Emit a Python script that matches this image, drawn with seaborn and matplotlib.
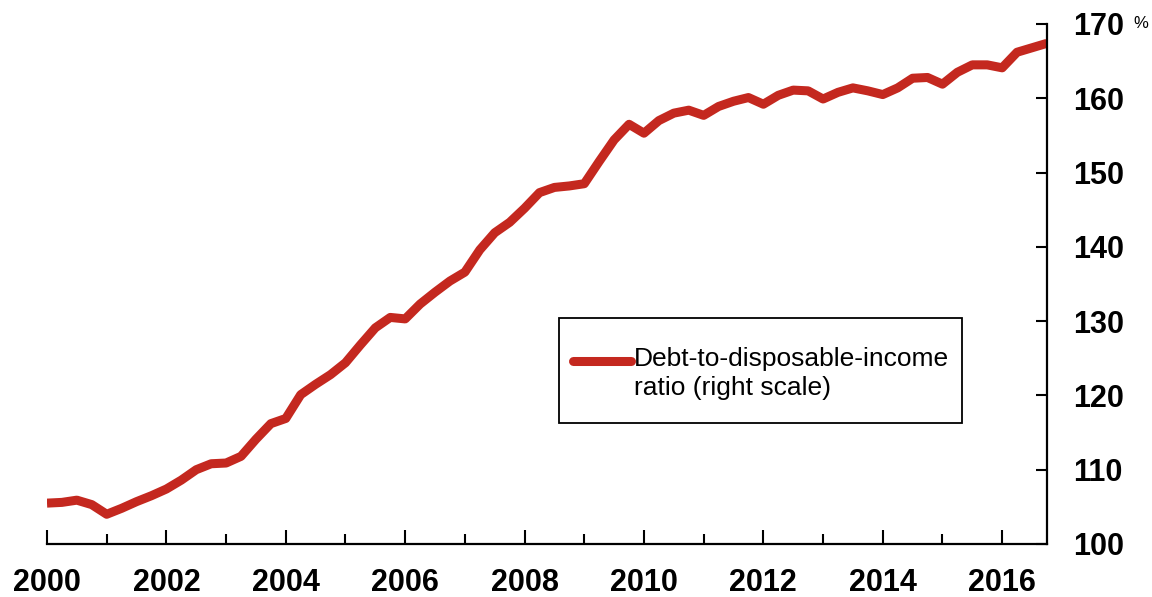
import numpy as np
import pandas as pd
import seaborn as sns
import matplotlib.pyplot as plt
from matplotlib.patches import Rectangle
from matplotlib.ticker import FixedLocator
from matplotlib.legend_handler import HandlerLine2D

# quarterly debt-to-disposable-income ratio, 2000Q1 .. 2016Q4
years = list(range(2000, 2017))
ratio = [
    105.5, 105.6, 105.9, 105.3,
    104.0, 104.8, 105.7, 106.5,
    107.4, 108.6, 110.0, 110.8,
    110.9, 111.8, 114.1, 116.2,
    116.9, 120.1, 121.5, 122.8,
    124.4, 126.8, 129.1, 130.5,
    130.3, 132.3, 133.9, 135.4,
    136.6, 139.6, 141.9, 143.3,
    145.2, 147.3, 148.0, 148.2,
    148.5, 151.5, 154.4, 156.5,
    155.3, 157.0, 158.0, 158.4,
    157.7, 158.9, 159.6, 160.1,
    159.2, 160.4, 161.1, 161.0,
    159.9, 160.8, 161.4, 161.0,
    160.5, 161.4, 162.7, 162.8,
    161.9, 163.5, 164.5, 164.5,
    164.1, 166.2, 166.8, 167.4,
]
x_labels = [str(y) for y in range(2000, 2017, 2)]
y_ticks = list(range(100, 171, 10))
series_name = "Debt-to-disposable-income\nratio (right scale)"

df = pd.DataFrame({
    "date": [y + q / 4 for y in years for q in range(4)],
    "ratio": ratio,
})


class RaisedLine(HandlerLine2D):
    # put the legend stroke level with the first text line
    def create_artists(self, legend, orig_handle, xdescent, ydescent,
                       width, height, fontsize, trans):
        return super().create_artists(legend, orig_handle, xdescent,
                                      ydescent - 0.95 * fontsize, width, height,
                                      fontsize, trans)


sns.set_theme(style="white", rc={
    "text.color": "black", "xtick.color": "black", "ytick.color": "black",
    "axes.edgecolor": "black",
})
plt.rcParams["font.family"] = ["Liberation Sans", "DejaVu Sans"]

fig = plt.figure(figsize=(11.52, 5.97), dpi=100)
ax = fig.add_axes([0.0408, 0.0888, 0.868, 0.871])

sns.lineplot(data=df, x="date", y="ratio", ax=ax, color="#C4281F", linewidth=6.5,
             label=series_name, solid_joinstyle="round", solid_capstyle="butt")

ax.set_xlim(2000, 2016.75)
ax.set_ylim(100, 170)
ax.set_xlabel("")
ax.set_ylabel("")

for side in ["left", "top"]:
    ax.spines[side].set_visible(False)
for side in ["bottom", "right"]:
    ax.spines[side].set_color("black")
    ax.spines[side].set_linewidth(1.6)

ax.yaxis.tick_right()
ax.yaxis.set_major_locator(FixedLocator(y_ticks))
ax.set_yticklabels([str(v) for v in y_ticks], fontsize=22, fontweight="bold")
ax.tick_params(axis="y", which="major", direction="in", length=8, width=1.5,
               color="black", pad=19, left=False, right=True)

ax.xaxis.set_major_locator(FixedLocator([int(s) for s in x_labels]))
ax.set_xticklabels(x_labels, fontsize=22, fontweight="bold")
ax.xaxis.set_minor_locator(FixedLocator(list(range(2001, 2017, 2))))
ax.tick_params(axis="x", which="major", direction="in", length=10, width=1.5,
               color="black", pad=17, bottom=True)
ax.tick_params(axis="x", which="minor", direction="in", length=7, width=1.5,
               color="black", bottom=True)

ax.text(1.086, 1.0, "%", transform=ax.transAxes, fontsize=12,
        ha="left", va="center", color="black")

# legend without its own frame, boxed separately to get the wider vertical margins
leg = ax.legend(loc="center left", bbox_to_anchor=(0.526, 0.328), borderaxespad=0,
                fontsize=19, frameon=False, handlelength=2.2, handletextpad=0.1,
                borderpad=0, handler_map={plt.Line2D: RaisedLine()})
for t in leg.get_texts():
    t.set_linespacing(1.3)
for line in leg.get_lines():
    line.set_solid_capstyle("round")
ax.add_patch(Rectangle((0.512, 0.233), 0.403, 0.202, transform=ax.transAxes,
                       facecolor="none", edgecolor="black", linewidth=1.3,
                       zorder=4))

fig.savefig("out.png", dpi=100)
